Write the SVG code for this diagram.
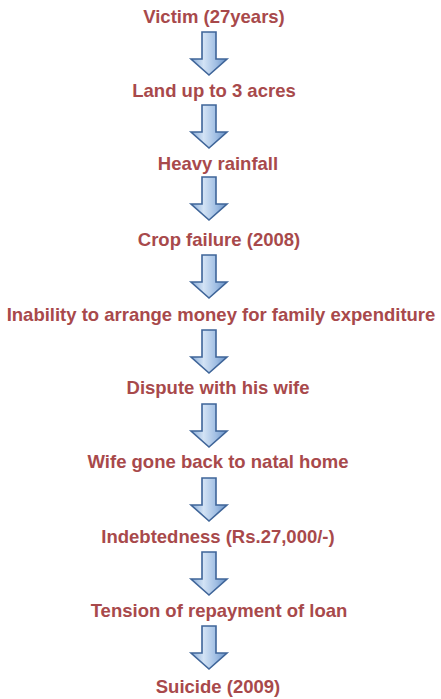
<svg xmlns="http://www.w3.org/2000/svg" xmlns:xlink="http://www.w3.org/1999/xlink" width="441" height="699" viewBox="0 0 441 699">
<style>
.t{font-family:"Liberation Sans",Arial,sans-serif;font-weight:bold;font-size:18.5px;fill:#a8494b;text-anchor:middle}
.a{fill:url(#g);stroke:#3f6599;stroke-width:1.6;stroke-linejoin:miter}
</style>
<defs>
<linearGradient id="g" x1="0" y1="0" x2="1" y2="0">
<stop offset="0" stop-color="#86abd8"/>
<stop offset="0.35" stop-color="#d3e3f5"/>
<stop offset="0.7" stop-color="#a0bee3"/>
<stop offset="1" stop-color="#6590c6"/>
</linearGradient>
<path id="arr" class="a" d="M-7,0 H7 V27 H18 L0,43 L-18,27 H-7 Z"/>
</defs>
<rect width="441" height="699" fill="#ffffff"/>
<g id="connectors">
<use xlink:href="#arr" transform="translate(209,32)"/>
<use xlink:href="#arr" transform="translate(209,105)"/>
<use xlink:href="#arr" transform="translate(209,177)"/>
<use xlink:href="#arr" transform="translate(209,255)"/>
<use xlink:href="#arr" transform="translate(209,330)"/>
<use xlink:href="#arr" transform="translate(209,404)"/>
<use xlink:href="#arr" transform="translate(209,478)"/>
<use xlink:href="#arr" transform="translate(209,552)"/>
<use xlink:href="#arr" transform="translate(209,626)"/>
</g>
<g id="n1"><text class="t" x="214" y="23">Victim (27years)</text></g>
<g id="n2"><text class="t" x="214" y="97">Land up to 3 acres</text></g>
<g id="n3"><text class="t" x="218" y="170">Heavy rainfall</text></g>
<g id="n4"><text class="t" x="219" y="246">Crop failure (2008)</text></g>
<g id="n5"><text class="t" x="221" y="321">Inability to arrange money for family expenditure</text></g>
<g id="n6"><text class="t" x="218" y="394">Dispute with his wife</text></g>
<g id="n7"><text class="t" x="218" y="468">Wife gone back to natal home</text></g>
<g id="n8"><text class="t" x="218" y="543">Indebtedness (Rs.27,000/-)</text></g>
<g id="n9"><text class="t" x="219" y="617">Tension of repayment of loan</text></g>
<g id="n10"><text class="t" x="218" y="693">Suicide (2009)</text></g>
</svg>
